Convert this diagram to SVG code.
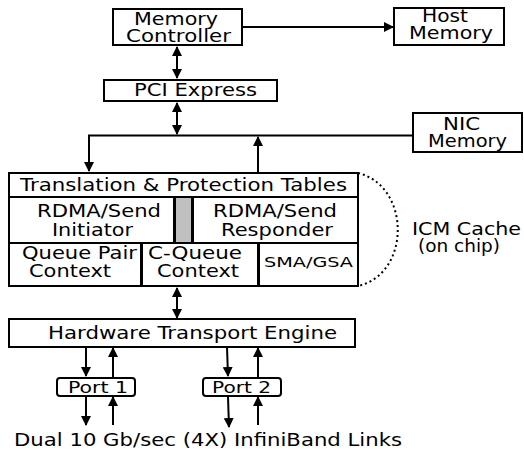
<svg xmlns="http://www.w3.org/2000/svg" width="524" height="450" viewBox="0 0 524 450">
<style>
.b{fill:#fff;stroke:#000;stroke-width:2}
.t{font-family:"DejaVu Sans",sans-serif;font-size:17px;fill:#000;text-anchor:start}
.l{fill:none;stroke:#000;stroke-width:2}
</style>
<defs>
<marker id="a" viewBox="0 0 10 10" refX="9" refY="5" markerWidth="5" markerHeight="5" orient="auto-start-reverse" markerUnits="strokeWidth">
<path d="M0,0 L10,5 L0,10 z" fill="#000"/>
</marker>
</defs>
<rect width="524" height="450" fill="#fff"/>
<g id="connectors">
<line class="l" x1="242" y1="27" x2="393" y2="27" marker-end="url(#a)"/>
<line class="l" x1="177" y1="47" x2="177" y2="78" marker-start="url(#a)" marker-end="url(#a)"/>
<line class="l" x1="177" y1="103" x2="177" y2="134" marker-start="url(#a)" marker-end="url(#a)"/>
<polyline class="l" points="413,135.5 89,135.5 89,171" marker-end="url(#a)"/>
<line class="l" x1="258" y1="172" x2="258" y2="137" marker-end="url(#a)"/>
<path d="M358,173 C411,186 411,274 358,286" fill="none" stroke="#000" stroke-width="2" stroke-dasharray="2,3"/>
<line class="l" x1="177" y1="288" x2="177" y2="318" marker-start="url(#a)" marker-end="url(#a)"/>
<line class="l" x1="86" y1="347" x2="86" y2="376" marker-end="url(#a)"/>
<line class="l" x1="113" y1="377" x2="113" y2="348" marker-end="url(#a)"/>
<line class="l" x1="227" y1="347" x2="228" y2="376" marker-end="url(#a)"/>
<line class="l" x1="258" y1="377" x2="258" y2="348" marker-end="url(#a)"/>
<line class="l" x1="86" y1="397" x2="86" y2="425" marker-end="url(#a)"/>
<line class="l" x1="113" y1="425" x2="113" y2="397" marker-end="url(#a)"/>
<line class="l" x1="228" y1="397" x2="229" y2="427" marker-end="url(#a)"/>
<line class="l" x1="258" y1="425" x2="258" y2="397" marker-end="url(#a)"/>
</g>
<g id="memctrl">
<rect class="b" x="113" y="9" width="129" height="36"/>
<text class="t" x="134" y="25" textLength="84" lengthAdjust="spacingAndGlyphs">Memory</text>
<text class="t" x="126" y="41.5" textLength="105" lengthAdjust="spacingAndGlyphs">Controller</text>
</g>
<g id="hostmem">
<rect class="b" x="394" y="8" width="110" height="37"/>
<text class="t" x="422" y="22" textLength="46" lengthAdjust="spacingAndGlyphs">Host</text>
<text class="t" x="409" y="38.5" textLength="84" lengthAdjust="spacingAndGlyphs">Memory</text>
</g>
<g id="pci">
<rect class="b" x="104" y="80" width="173" height="21"/>
<text class="t" x="134" y="96" textLength="123" lengthAdjust="spacingAndGlyphs">PCI Express</text>
</g>
<g id="nicmem">
<rect class="b" x="413" y="113" width="109" height="39"/>
<text class="t" x="443" y="130" textLength="37" lengthAdjust="spacingAndGlyphs">NIC</text>
<text class="t" x="428" y="147" textLength="79" lengthAdjust="spacingAndGlyphs">Memory</text>
</g>
<g id="tpt">
<rect class="b" x="9" y="173" width="349" height="24"/>
<text class="t" x="20" y="190.5" textLength="327" lengthAdjust="spacingAndGlyphs">Translation &amp; Protection Tables</text>
</g>
<g id="initiator">
<rect class="b" x="9" y="197" width="165" height="46"/>
<text class="t" x="37" y="217" textLength="124" lengthAdjust="spacingAndGlyphs">RDMA/Send</text>
<text class="t" x="52" y="236" textLength="81" lengthAdjust="spacingAndGlyphs">Initiator</text>
</g>
<g id="bar">
<rect x="175" y="197" width="17" height="46" fill="#c0c0c0" stroke="#000" stroke-width="2"/>
</g>
<g id="responder">
<rect class="b" x="193" y="197" width="165" height="46"/>
<text class="t" x="213" y="217" textLength="124" lengthAdjust="spacingAndGlyphs">RDMA/Send</text>
<text class="t" x="221" y="236" textLength="112" lengthAdjust="spacingAndGlyphs">Responder</text>
</g>
<g id="qpc">
<rect class="b" x="9" y="243" width="132" height="43"/>
<text class="t" x="22" y="259" textLength="115" lengthAdjust="spacingAndGlyphs">Queue Pair</text>
<text class="t" x="29" y="277" textLength="82" lengthAdjust="spacingAndGlyphs">Context</text>
</g>
<g id="cqc">
<rect class="b" x="142" y="243" width="116" height="43"/>
<text class="t" x="148" y="259" textLength="94" lengthAdjust="spacingAndGlyphs">C-Queue</text>
<text class="t" x="157" y="277" textLength="82" lengthAdjust="spacingAndGlyphs">Context</text>
</g>
<g id="sma">
<rect class="b" x="259" y="243" width="99" height="43"/>
<text class="t" x="264" y="266.5" textLength="89" lengthAdjust="spacingAndGlyphs" style="font-size:14px">SMA/GSA</text>
</g>
<g id="icm">
<text class="t" x="412" y="234.5" textLength="109" lengthAdjust="spacingAndGlyphs">ICM Cache</text>
<text class="t" x="418" y="252" textLength="82" lengthAdjust="spacingAndGlyphs">(on chip)</text>
</g>
<g id="hte">
<rect class="b" x="9" y="319" width="346" height="28"/>
<text class="t" x="48" y="338.5" textLength="289" lengthAdjust="spacingAndGlyphs">Hardware Transport Engine</text>
</g>
<g id="port1">
<rect class="b" x="57" y="378" width="78" height="18" rx="3"/>
<text class="t" x="68" y="392.5" textLength="60" lengthAdjust="spacingAndGlyphs" style="font-size:16px">Port 1</text>
</g>
<g id="port2">
<rect class="b" x="203" y="378" width="78" height="18" rx="3"/>
<text class="t" x="212" y="392.5" textLength="59" lengthAdjust="spacingAndGlyphs" style="font-size:16px">Port 2</text>
</g>
<g id="links">
<text class="t" x="14" y="445.5" textLength="388" lengthAdjust="spacingAndGlyphs">Dual 10 Gb/sec (4X) InfiniBand Links</text>
</g>
</svg>
